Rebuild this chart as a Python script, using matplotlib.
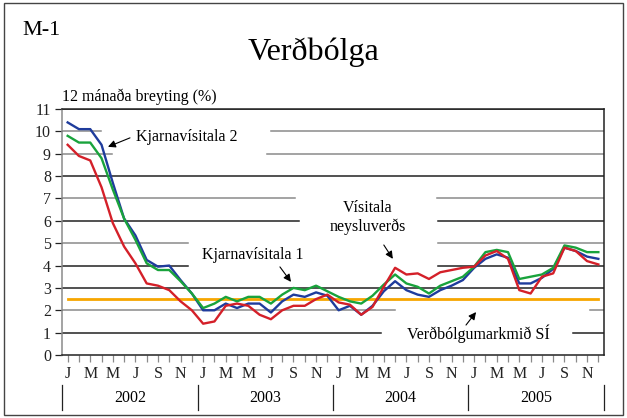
import numpy as np
import matplotlib
matplotlib.use("Agg")
import matplotlib.pyplot as plt
from matplotlib.patches import Rectangle
from matplotlib.transforms import blended_transform_factory

plt.rcParams["font.family"] = ["Liberation Serif", "DejaVu Serif"]

# 12 mánaða breyting (%), jan 2002 - des 2005
kjarna2 = [10.4, 10.1, 10.1, 9.4, 7.7, 6.1, 5.35, 4.25, 3.95, 4.0, 3.35, 2.75,
           2.0, 2.0, 2.3, 2.1, 2.3, 2.3, 1.9, 2.4, 2.7, 2.6, 2.8, 2.65,
           2.0, 2.2, 1.8, 2.2, 2.85, 3.3, 2.9, 2.7, 2.6, 2.9, 3.1, 3.35,
           3.9, 4.3, 4.5, 4.35, 3.2, 3.2, 3.45, 3.85, 4.8, 4.65, 4.4, 4.3]
kjarna1 = [9.8, 9.5, 9.5, 8.8, 7.4, 6.1, 5.15, 4.1, 3.8, 3.8, 3.3, 2.75,
           2.1, 2.3, 2.6, 2.4, 2.6, 2.6, 2.3, 2.7, 3.0, 2.9, 3.1, 2.85,
           2.6, 2.4, 2.3, 2.65, 3.15, 3.6, 3.2, 3.05, 2.75, 3.1, 3.3, 3.5,
           3.95, 4.6, 4.7, 4.6, 3.4, 3.5, 3.6, 3.9, 4.9, 4.8, 4.6, 4.6]
vnv = [9.4, 8.9, 8.7, 7.5, 5.9, 4.85, 4.1, 3.2, 3.1, 2.9, 2.4, 2.0,
       1.4, 1.5, 2.2, 2.3, 2.2, 1.8, 1.6, 2.0, 2.2, 2.2, 2.5, 2.7,
       2.35, 2.25, 1.8, 2.15, 3.05, 3.9, 3.6, 3.65, 3.4, 3.7, 3.8, 3.9,
       3.95, 4.45, 4.65, 4.3, 2.9, 2.75, 3.5, 3.65, 4.8, 4.65, 4.2, 4.05]
markmid = 2.5
years = ["2002", "2003", "2004", "2005"]
month_letters = ["J", "", "M", "", "M", "", "J", "", "S", "", "N", ""]

BLUE = "#1f3c9c"
GREEN = "#19a33c"
RED = "#d42029"
ORANGE = "#f7a600"
DARK = "#222222"
GREY = "#8a8a8a"

n = len(vnv)
x = np.arange(n)

fig = plt.figure(figsize=(6.27, 4.18), dpi=100)
ax = fig.add_axes([0.0989, 0.1507, 0.8644, 0.5885])

# gridlines, broken where the labels sit
grid = [
    (11, DARK, [(0, 1)]),
    (10, GREY, [(0, 0.072), (0.386, 1)]),
    (9, GREY, [(0, 0.092), (0.378, 1)]),
    (8, DARK, [(0, 1)]),
    (7, GREY, [(0, 0.430), (0.692, 1)]),
    (6, DARK, [(0, 0.437), (0.694, 1)]),
    (5, GREY, [(0, 0.232), (0.694, 1)]),
    (4, DARK, [(0, 0.232), (0.694, 1)]),
    (3, DARK, [(0, 1)]),
    (2, GREY, [(0, 0.614), (0.974, 1)]),
    (1, DARK, [(0, 0.589), (0.943, 1)]),
]
for yv, col, segs in grid:
    for a, b in segs:
        ax.axhline(yv, a, b, color=col, lw=1.1, zorder=1)

ax.plot(x, [markmid] * n, color=ORANGE, lw=2, zorder=2)
ax.plot(x, kjarna2, color=BLUE, lw=1.7, zorder=3)
ax.plot(x, kjarna1, color=GREEN, lw=1.7, zorder=4)
ax.plot(x, vnv, color=RED, lw=1.7, zorder=5)

ax.set_xlim(-0.5, n - 0.5)
ax.set_ylim(0, 11)
ax.set_yticks(range(0, 12))
ax.set_xticks(x)
ax.set_xticklabels(month_letters * 4)
ax.tick_params(axis="both", direction="out", length=5, width=0.9,
               colors=DARK, labelsize=11.5, pad=3)
ax.tick_params(axis="x", colors=GREY, labelcolor=DARK)

for side in ["top", "right", "bottom"]:
    ax.spines[side].set_color(DARK)
    ax.spines[side].set_linewidth(1.1)
ax.spines["left"].set_color(GREY)
ax.spines["left"].set_linewidth(1.1)

# year bands under the month letters
tr = blended_transform_factory(ax.transData, ax.transAxes)
for k in range(len(years) + 1):
    ax.plot([k * 12 - 0.5] * 2, [-0.122, -0.224], color=DARK, lw=0.9,
            transform=tr, clip_on=False)
for k, yr in enumerate(years):
    ax.text(k * 12 + 5.5, -0.175, yr, transform=tr, ha="center", va="center",
            fontsize=11.5)

arrow = dict(arrowstyle="-|>", color="black", lw=0.8, mutation_scale=11,
             shrinkA=0, shrinkB=0)
ax.annotate("", xy=(3.57, 9.31), xytext=(5.52, 9.71), arrowprops=arrow)
ax.text(6.05, 9.75, "Kjarnavísitala 2", ha="left", va="center", fontsize=11.5)
ax.annotate("", xy=(19.78, 3.27), xytext=(18.8, 3.94), arrowprops=arrow)
ax.text(11.9, 4.47, "Kjarnavísitala 1", ha="left", va="center", fontsize=11.5)
ax.annotate("", xy=(28.8, 4.3), xytext=(28.0, 4.92), arrowprops=arrow)
ax.text(26.6, 6.13, "Vísitala\nneysluverðs", ha="center", va="center",
        fontsize=11.5, linespacing=1.2)
ax.annotate("", xy=(36.17, 1.92), xytext=(35.28, 1.34), arrowprops=arrow)
ax.text(30.06, 0.94, "Verðbólgumarkmið SÍ", ha="left", va="center",
        fontsize=11.5)

fig.text(0.0989, 0.768, "12 mánaða breyting (%)", ha="left", va="center",
         fontsize=11.5)
fig.text(0.5, 0.876, "Verðbólga", ha="center", va="center", fontsize=23)
fig.text(0.035, 0.928, "M-1", ha="left", va="center", fontsize=16)

fig.patches.append(Rectangle((0.006, 0.006), 0.988, 0.986, transform=fig.transFigure,
                             fill=False, edgecolor="#444444", lw=1))

fig.savefig("out.png", dpi=100)
